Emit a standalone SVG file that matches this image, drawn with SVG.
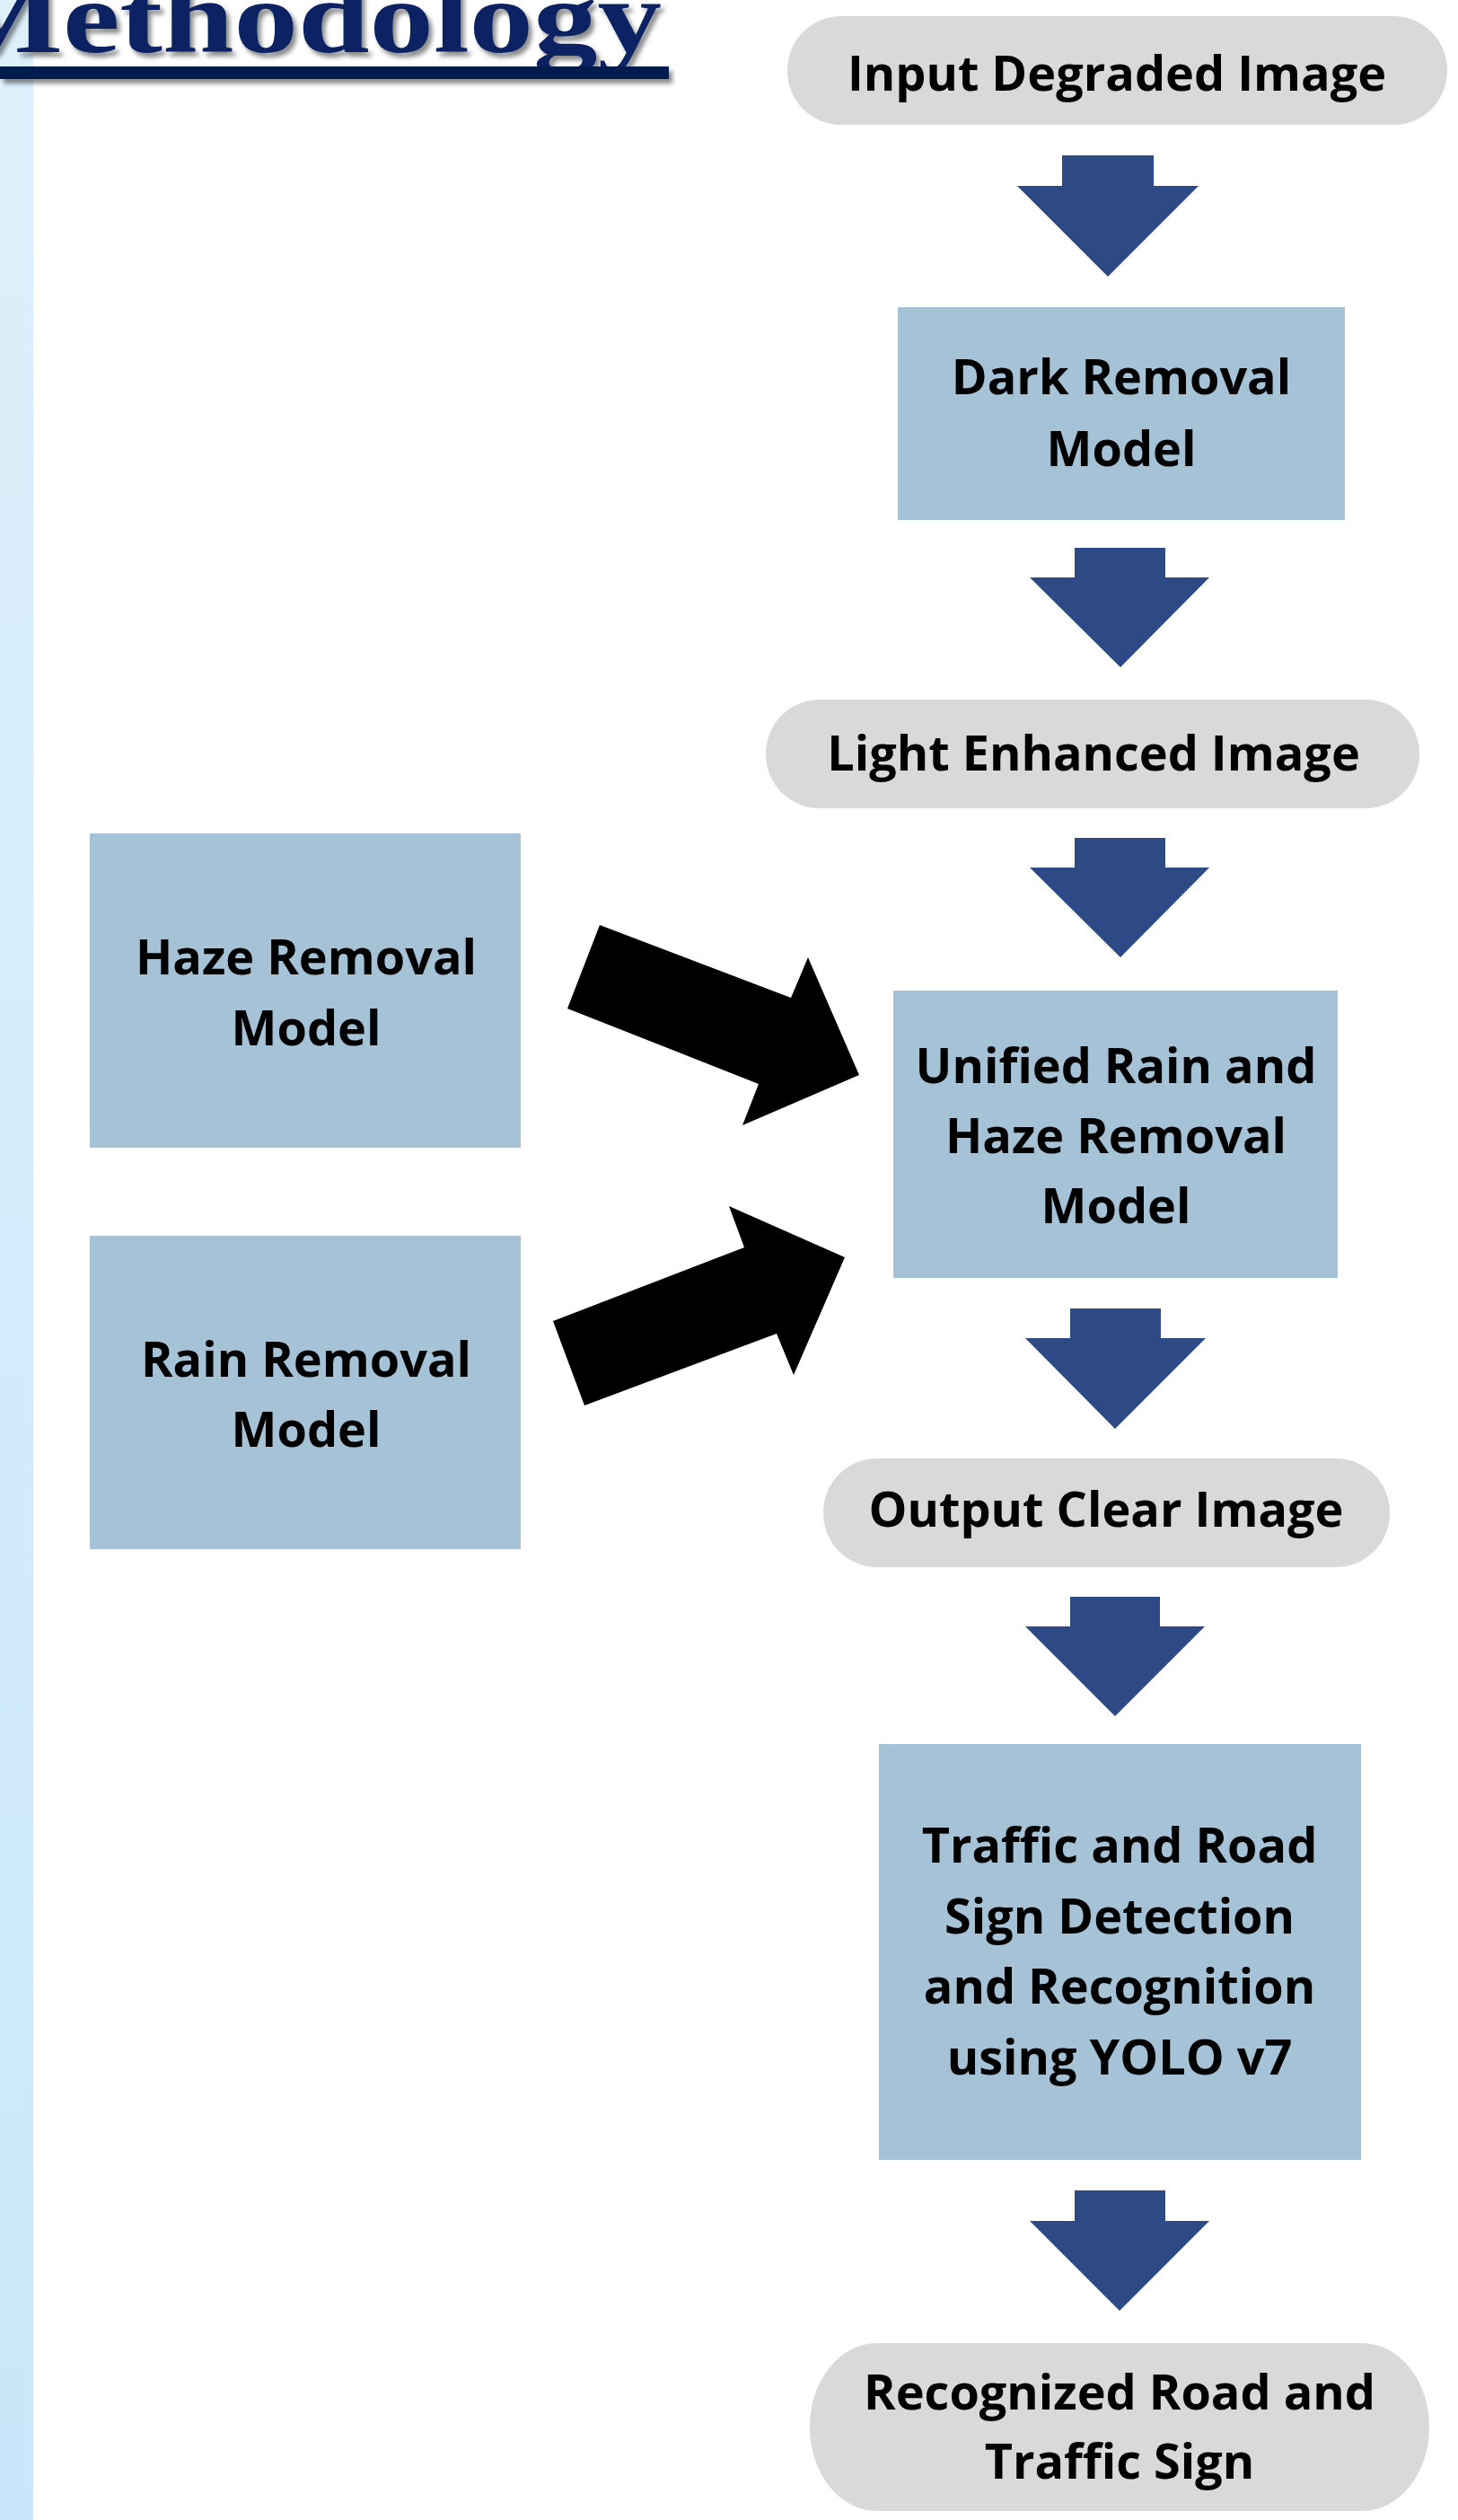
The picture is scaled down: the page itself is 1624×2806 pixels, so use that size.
<svg xmlns="http://www.w3.org/2000/svg" width="1624" height="2806" viewBox="0 0 1624 2806">
<defs>
<linearGradient id="barGrad" x1="0" y1="0" x2="0" y2="1">
<stop offset="0" stop-color="#def0fa"/>
<stop offset="1" stop-color="#c9e7fa"/>
</linearGradient>
<filter id="shadow" x="-10%" y="-30%" width="120%" height="160%">
<feDropShadow dx="4" dy="5" stdDeviation="2.5" flood-color="#000000" flood-opacity="0.45"/>
</filter>
</defs>
<style>
.pill{fill:#d9d9d9}
.box{fill:#a5c2d7}
.lbl{font-family:"Open Sans","Noto Sans",sans-serif;font-weight:700;font-size:54px;fill:#000;text-anchor:middle}
.down{fill:#2e4a86}
.side{fill:#000}
.title{font-family:"Liberation Serif","Times New Roman",serif;font-weight:700;font-size:115px;fill:#0a2262}
</style>
<rect width="1624" height="2806" fill="#ffffff"/>
<rect x="0" y="0" width="37" height="2806" fill="url(#barGrad)"/>
<g id="title" filter="url(#shadow)">
<text class="title" x="-65" y="58" textLength="802" lengthAdjust="spacingAndGlyphs">Methodology</text>
<rect x="0" y="74" width="745" height="14" fill="#001a4f"/>
</g>
<g id="connectors">
<polygon class="down" points="1183,173 1285,173 1285,207 1335,207 1234,308 1133,207 1183,207"/>
<polygon class="down" points="1197,610 1298,610 1298,643 1347,643 1248,743 1147,643 1197,643"/>
<polygon class="down" points="1197,933 1298,933 1298,966 1347,966 1248,1066 1147,966 1197,966"/>
<polygon class="down" points="1192,1457 1293,1457 1293,1490 1343,1490 1242,1591 1142,1490 1192,1490"/>
<polygon class="down" points="1192,1778 1292,1778 1292,1811 1342,1811 1242,1911 1142,1811 1192,1811"/>
<polygon class="down" points="1197,2439 1298,2439 1298,2473 1347,2473 1247,2573 1147,2473 1197,2473"/>
<polygon class="side" points="668,1030 881,1111 900,1066 957,1197 827,1253 845,1207 632,1123"/>
<polygon class="side" points="812,1343 941,1400 884,1531 865,1485 651,1565 616,1471 829,1389"/>
</g>
<g id="input">
<rect class="pill" x="877" y="18" width="735" height="121" rx="60" ry="60"/>
<text class="lbl" x="1244" y="101">Input Degraded Image</text>
</g>
<g id="dark">
<rect class="box" x="1000" y="342" width="498" height="237"/>
<text class="lbl" x="1249" y="439">Dark Removal</text>
<text class="lbl" x="1249" y="519">Model</text>
</g>
<g id="light">
<rect class="pill" x="853" y="779" width="728" height="121" rx="60" ry="60"/>
<text class="lbl" x="1218" y="858">Light Enhanced Image</text>
</g>
<g id="haze">
<rect class="box" x="100" y="928" width="480" height="350"/>
<text class="lbl" x="341" y="1085">Haze Removal</text>
<text class="lbl" x="341" y="1164">Model</text>
</g>
<g id="rain">
<rect class="box" x="100" y="1376" width="480" height="349"/>
<text class="lbl" x="341" y="1533">Rain Removal</text>
<text class="lbl" x="341" y="1611">Model</text>
</g>
<g id="unified">
<rect class="box" x="995" y="1103" width="495" height="320"/>
<text class="lbl" x="1243" y="1206">Unified Rain and</text>
<text class="lbl" x="1243" y="1284">Haze Removal</text>
<text class="lbl" x="1243" y="1362">Model</text>
</g>
<g id="output">
<rect class="pill" x="917" y="1624" width="631" height="121" rx="60" ry="60"/>
<text class="lbl" x="1232" y="1700">Output Clear Image</text>
</g>
<g id="traffic">
<rect class="box" x="979" y="1942" width="537" height="463"/>
<text class="lbl" x="1247" y="2074">Traffic and Road</text>
<text class="lbl" x="1247" y="2153">Sign Detection</text>
<text class="lbl" x="1247" y="2231">and Recognition</text>
<text class="lbl" x="1247" y="2310">using YOLO v7</text>
</g>
<g id="recognized">
<rect class="pill" x="902" y="2609" width="690" height="187" rx="75" ry="93"/>
<text class="lbl" x="1247" y="2683">Recognized Road and</text>
<text class="lbl" x="1247" y="2760">Traffic Sign</text>
</g>
</svg>
